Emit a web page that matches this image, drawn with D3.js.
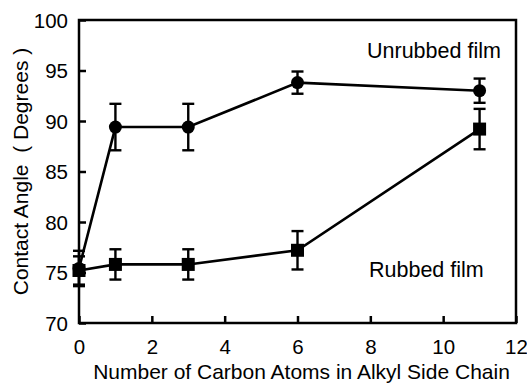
<!DOCTYPE html>
<meta charset="utf-8">
<head>
<style type="text/css">
  body { margin: 0; background: #fff; }
  svg text { font-family: "Liberation Sans", Arial, Helvetica, sans-serif; fill: #000; }
</style>
</head>
<script src="https://cdn.jsdelivr.net/npm/d3@7"></script>
<body>
<div id="vis"></div>
<script>
var width = 527,
    height = 384;

// data
var carbons = [0, 1, 3, 6, 11];
var unrubbed = [75.4, 89.4, 89.4, 93.8, 93.0];
var unrubbedErr = [1.75, 2.3, 2.3, 1.1, 1.2];
var rubbed = [75.2, 75.8, 75.8, 77.2, 89.2];
var rubbedErr = [1.4, 1.5, 1.5, 1.9, 2.0];
var xTicks = [0, 2, 4, 6, 8, 10, 12];
var yTicks = [70, 75, 80, 85, 90, 95, 100];

var margin = {top: 20, left: 79, bottom: 61, right: 11},
    chartWidth = width - margin.left - margin.right,
    chartHeight = height - margin.top - margin.bottom;

var svg = d3.select("#vis").append("svg")
    .attr("width", width)
    .attr("height", height);

var g = svg.append("g")
    .attr("transform", "translate(" + margin.left + "," + margin.top + ")");

var x = d3.scaleLinear().domain([0, 12]).range([0, chartWidth]);
var y = d3.scaleLinear().domain([70, 100]).range([chartHeight, 0]);

// axes, ticks pointing inwards
var xAxis = g.append("g")
    .attr("transform", "translate(0," + chartHeight + ")")
    .call(d3.axisBottom(x).tickValues(xTicks).tickSizeInner(-7).tickSizeOuter(0).tickPadding(16));
var yAxis = g.append("g")
    .call(d3.axisLeft(y).tickValues(yTicks).tickSizeInner(-7).tickSizeOuter(0).tickPadding(11));

[xAxis, yAxis].forEach(function(a) {
  a.select(".domain").remove();
  a.selectAll("line").attr("stroke", "#000").attr("stroke-width", 2.5);
  a.selectAll("text").attr("font-size", "20.5px")
    .attr("font-family", "'Liberation Sans', Arial, sans-serif");
});
yAxis.selectAll("text").attr("dy", "0.36em");
xAxis.selectAll("text").attr("dy", "0.71em");

// frame
g.append("rect")
    .attr("x", 0).attr("y", 0)
    .attr("width", chartWidth).attr("height", chartHeight)
    .attr("fill", "none").attr("stroke", "#000").attr("stroke-width", 2.5);

function drawSeries(vals, errs, shape) {
  var pts = carbons.map(function(c, i) { return {x: c, y: vals[i], e: errs[i]}; });

  g.append("path")
      .datum(pts)
      .attr("fill", "none")
      .attr("stroke", "#000")
      .attr("stroke-width", 2.6)
      .attr("d", d3.line().x(function(d) { return x(d.x); }).y(function(d) { return y(d.y); }));

  var eb = g.append("g").attr("stroke", "#000").attr("stroke-width", 2.4);
  pts.forEach(function(d) {
    var cx = x(d.x), top = y(d.y + d.e), bot = y(d.y - d.e);
    eb.append("line").attr("x1", cx).attr("x2", cx).attr("y1", top).attr("y2", bot);
    eb.append("line").attr("x1", cx - 6).attr("x2", cx + 6).attr("y1", top).attr("y2", top);
    eb.append("line").attr("x1", cx - 6).attr("x2", cx + 6).attr("y1", bot).attr("y2", bot);
  });

  if (shape == "circle") {
    g.selectAll(".c").data(pts).enter().append("circle")
        .attr("cx", function(d) { return x(d.x); })
        .attr("cy", function(d) { return y(d.y); })
        .attr("r", 6.5)
        .attr("fill", "#000");
  } else {
    g.selectAll(".s").data(pts).enter().append("rect")
        .attr("x", function(d) { return x(d.x) - 6.5; })
        .attr("y", function(d) { return y(d.y) - 6.5; })
        .attr("width", 13).attr("height", 13)
        .attr("fill", "#000");
  }
}

drawSeries(unrubbed, unrubbedErr, "circle");
drawSeries(rubbed, rubbedErr, "square");

// labels
svg.append("text")
    .attr("x", 367).attr("y", 58)
    .attr("font-size", "21.5px")
    .text("Unrubbed film");
svg.append("text")
    .attr("x", 369).attr("y", 277)
    .attr("font-size", "21.5px")
    .text("Rubbed film");

svg.append("text")
    .attr("text-anchor", "middle")
    .attr("x", 301.5).attr("y", 379)
    .attr("font-size", "21px")
    .text("Number of Carbon Atoms in Alkyl Side Chain");

svg.append("text")
    .attr("text-anchor", "middle")
    .attr("transform", "translate(28," + (margin.top + chartHeight / 2) + ") rotate(-90)")
    .attr("font-size", "21px")
    .style("white-space", "pre")
    .text("Contact Angle  ( Degrees )");
</script>
</body>
